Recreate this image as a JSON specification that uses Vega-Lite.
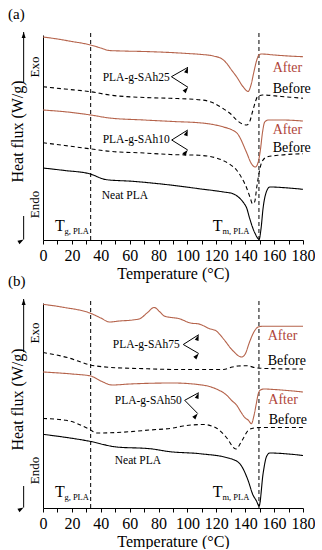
{
"$schema":"https://vega.github.io/schema/vega-lite/v6.json",
"padding":{"left":8,"top":6,"right":0,"bottom":0},
"background":"white",
"spacing":63,
"bounds":"flush",
"config":{"font":"Liberation Serif","view":{"stroke":null},
 "axis":{"domainColor":"black","tickColor":"black","labelColor":"black","titleColor":"black","grid":false,"labelFontSize":16,"titleFontSize":16,"titleFontWeight":"normal","tickSize":4,"labelPadding":3,"titlePadding":2},
 "title":{"fontWeight":"normal","fontSize":15,"color":"black"}},
"datasets":{
"vlines":[{"T":33,"v":0,"v2":207},{"T":149.5,"v":0,"v2":207}],
"curves":[
{"panel":"a","series":"a25A","state":"After","T":0,"v":203},{"panel":"a","series":"a25A","state":"After","T":10,"v":201},{"panel":"a","series":"a25A","state":"After","T":20,"v":198.5},{"panel":"a","series":"a25A","state":"After","T":30,"v":196},{"panel":"a","series":"a25A","state":"After","T":33,"v":195},{"panel":"a","series":"a25A","state":"After","T":40,"v":192},{"panel":"a","series":"a25A","state":"After","T":46,"v":189.5},{"panel":"a","series":"a25A","state":"After","T":55,"v":189},{"panel":"a","series":"a25A","state":"After","T":70,"v":188.5},{"panel":"a","series":"a25A","state":"After","T":88,"v":187.5},{"panel":"a","series":"a25A","state":"After","T":100,"v":186.5},{"panel":"a","series":"a25A","state":"After","T":110,"v":185.5},{"panel":"a","series":"a25A","state":"After","T":118,"v":184},{"panel":"a","series":"a25A","state":"After","T":124,"v":181},{"panel":"a","series":"a25A","state":"After","T":127,"v":177},{"panel":"a","series":"a25A","state":"After","T":130.5,"v":170},{"panel":"a","series":"a25A","state":"After","T":134,"v":163.3},{"panel":"a","series":"a25A","state":"After","T":138.5,"v":153.3},{"panel":"a","series":"a25A","state":"After","T":142,"v":148.5},{"panel":"a","series":"a25A","state":"After","T":144,"v":155},{"panel":"a","series":"a25A","state":"After","T":146,"v":168},{"panel":"a","series":"a25A","state":"After","T":148,"v":180},{"panel":"a","series":"a25A","state":"After","T":149.5,"v":185},{"panel":"a","series":"a25A","state":"After","T":151,"v":186},{"panel":"a","series":"a25A","state":"After","T":160,"v":185},{"panel":"a","series":"a25A","state":"After","T":170,"v":184},{"panel":"a","series":"a25A","state":"After","T":180,"v":183.3},
{"panel":"a","series":"a25B","state":"Before","T":0,"v":153.3},{"panel":"a","series":"a25B","state":"Before","T":15,"v":151},{"panel":"a","series":"a25B","state":"Before","T":33,"v":148.3},{"panel":"a","series":"a25B","state":"Before","T":46,"v":145},{"panel":"a","series":"a25B","state":"Before","T":70,"v":142.5},{"panel":"a","series":"a25B","state":"Before","T":88,"v":141.7},{"panel":"a","series":"a25B","state":"Before","T":110,"v":140},{"panel":"a","series":"a25B","state":"Before","T":118,"v":137},{"panel":"a","series":"a25B","state":"Before","T":124,"v":132},{"panel":"a","series":"a25B","state":"Before","T":130,"v":126},{"panel":"a","series":"a25B","state":"Before","T":134,"v":120},{"panel":"a","series":"a25B","state":"Before","T":138,"v":116},{"panel":"a","series":"a25B","state":"Before","T":141,"v":115},{"panel":"a","series":"a25B","state":"Before","T":143,"v":118},{"panel":"a","series":"a25B","state":"Before","T":145,"v":128},{"panel":"a","series":"a25B","state":"Before","T":147,"v":138},{"panel":"a","series":"a25B","state":"Before","T":148.5,"v":143.3},{"panel":"a","series":"a25B","state":"Before","T":152,"v":145},{"panel":"a","series":"a25B","state":"Before","T":165,"v":143.5},{"panel":"a","series":"a25B","state":"Before","T":180,"v":141.7},
{"panel":"a","series":"a10A","state":"After","T":0,"v":130},{"panel":"a","series":"a10A","state":"After","T":20,"v":127.5},{"panel":"a","series":"a10A","state":"After","T":33,"v":125},{"panel":"a","series":"a10A","state":"After","T":46,"v":122},{"panel":"a","series":"a10A","state":"After","T":70,"v":120},{"panel":"a","series":"a10A","state":"After","T":90,"v":118.5},{"panel":"a","series":"a10A","state":"After","T":110,"v":117},{"panel":"a","series":"a10A","state":"After","T":125,"v":113},{"panel":"a","series":"a10A","state":"After","T":131,"v":110},{"panel":"a","series":"a10A","state":"After","T":134.8,"v":106},{"panel":"a","series":"a10A","state":"After","T":140.8,"v":88},{"panel":"a","series":"a10A","state":"After","T":144.3,"v":76.3},{"panel":"a","series":"a10A","state":"After","T":147,"v":73},{"panel":"a","series":"a10A","state":"After","T":149,"v":78},{"panel":"a","series":"a10A","state":"After","T":150.5,"v":90},{"panel":"a","series":"a10A","state":"After","T":152,"v":108},{"panel":"a","series":"a10A","state":"After","T":153.5,"v":118},{"panel":"a","series":"a10A","state":"After","T":156,"v":120},{"panel":"a","series":"a10A","state":"After","T":165,"v":120},{"panel":"a","series":"a10A","state":"After","T":180,"v":119},
{"panel":"a","series":"a10B","state":"Before","T":0,"v":97.3},{"panel":"a","series":"a10B","state":"Before","T":15,"v":94.5},{"panel":"a","series":"a10B","state":"Before","T":32,"v":91.3},{"panel":"a","series":"a10B","state":"Before","T":46,"v":88.7},{"panel":"a","series":"a10B","state":"Before","T":70,"v":87},{"panel":"a","series":"a10B","state":"Before","T":88,"v":85.5},{"panel":"a","series":"a10B","state":"Before","T":108,"v":84.7},{"panel":"a","series":"a10B","state":"Before","T":120,"v":82},{"panel":"a","series":"a10B","state":"Before","T":129,"v":76},{"panel":"a","series":"a10B","state":"Before","T":134,"v":70},{"panel":"a","series":"a10B","state":"Before","T":138,"v":61},{"panel":"a","series":"a10B","state":"Before","T":141,"v":52},{"panel":"a","series":"a10B","state":"Before","T":143.5,"v":42},{"panel":"a","series":"a10B","state":"Before","T":145,"v":36.3},{"panel":"a","series":"a10B","state":"Before","T":146.5,"v":38},{"panel":"a","series":"a10B","state":"Before","T":148,"v":53},{"panel":"a","series":"a10B","state":"Before","T":150,"v":70},{"panel":"a","series":"a10B","state":"Before","T":151.5,"v":78},{"panel":"a","series":"a10B","state":"Before","T":155,"v":83},{"panel":"a","series":"a10B","state":"Before","T":165,"v":85},{"panel":"a","series":"a10B","state":"Before","T":180,"v":86.3},
{"panel":"a","series":"aN","state":"Neat","T":0,"v":72},{"panel":"a","series":"aN","state":"Neat","T":15,"v":69.5},{"panel":"a","series":"aN","state":"Neat","T":32,"v":66.3},{"panel":"a","series":"aN","state":"Neat","T":44,"v":60.3},{"panel":"a","series":"aN","state":"Neat","T":62,"v":58.7},{"panel":"a","series":"aN","state":"Neat","T":85,"v":55.5},{"panel":"a","series":"aN","state":"Neat","T":108,"v":51.3},{"panel":"a","series":"aN","state":"Neat","T":125,"v":48},{"panel":"a","series":"aN","state":"Neat","T":131.5,"v":46.3},{"panel":"a","series":"aN","state":"Neat","T":136,"v":42},{"panel":"a","series":"aN","state":"Neat","T":139,"v":37},{"panel":"a","series":"aN","state":"Neat","T":141,"v":32},{"panel":"a","series":"aN","state":"Neat","T":143,"v":22},{"panel":"a","series":"aN","state":"Neat","T":145,"v":13},{"panel":"a","series":"aN","state":"Neat","T":147,"v":6},{"panel":"a","series":"aN","state":"Neat","T":149.6,"v":0.7},{"panel":"a","series":"aN","state":"Neat","T":151,"v":12},{"panel":"a","series":"aN","state":"Neat","T":152.3,"v":31},{"panel":"a","series":"aN","state":"Neat","T":154.6,"v":48},{"panel":"a","series":"aN","state":"Neat","T":157,"v":53},{"panel":"a","series":"aN","state":"Neat","T":170,"v":52},{"panel":"a","series":"aN","state":"Neat","T":180,"v":50.7},
{"panel":"b","series":"b75A","state":"After","T":0,"v":203.7},{"panel":"b","series":"b75A","state":"After","T":15,"v":200.5},{"panel":"b","series":"b75A","state":"After","T":32.4,"v":195},{"panel":"b","series":"b75A","state":"After","T":40,"v":190},{"panel":"b","series":"b75A","state":"After","T":46,"v":186},{"panel":"b","series":"b75A","state":"After","T":53,"v":187},{"panel":"b","series":"b75A","state":"After","T":62,"v":188},{"panel":"b","series":"b75A","state":"After","T":67,"v":189.3},{"panel":"b","series":"b75A","state":"After","T":72,"v":195},{"panel":"b","series":"b75A","state":"After","T":77,"v":200.5},{"panel":"b","series":"b75A","state":"After","T":81,"v":196},{"panel":"b","series":"b75A","state":"After","T":84,"v":192},{"panel":"b","series":"b75A","state":"After","T":95,"v":189},{"panel":"b","series":"b75A","state":"After","T":102,"v":185},{"panel":"b","series":"b75A","state":"After","T":108,"v":184},{"panel":"b","series":"b75A","state":"After","T":115,"v":179.5},{"panel":"b","series":"b75A","state":"After","T":120,"v":177},{"panel":"b","series":"b75A","state":"After","T":125,"v":169},{"panel":"b","series":"b75A","state":"After","T":131,"v":158},{"panel":"b","series":"b75A","state":"After","T":137.5,"v":151},{"panel":"b","series":"b75A","state":"After","T":140,"v":154},{"panel":"b","series":"b75A","state":"After","T":143,"v":166},{"panel":"b","series":"b75A","state":"After","T":146,"v":176},{"panel":"b","series":"b75A","state":"After","T":149,"v":181},{"panel":"b","series":"b75A","state":"After","T":152,"v":181.7},{"panel":"b","series":"b75A","state":"After","T":180,"v":181.7},
{"panel":"b","series":"b75B","state":"Before","T":0,"v":155.5},{"panel":"b","series":"b75B","state":"Before","T":18,"v":150},{"panel":"b","series":"b75B","state":"Before","T":32,"v":143.3},{"panel":"b","series":"b75B","state":"Before","T":46,"v":140.7},{"panel":"b","series":"b75B","state":"Before","T":70,"v":139.3},{"panel":"b","series":"b75B","state":"Before","T":95,"v":138.5},{"panel":"b","series":"b75B","state":"Before","T":125,"v":138.5},{"panel":"b","series":"b75B","state":"Before","T":131,"v":141},{"panel":"b","series":"b75B","state":"Before","T":135,"v":142},{"panel":"b","series":"b75B","state":"Before","T":141,"v":142.3},{"panel":"b","series":"b75B","state":"Before","T":148,"v":140},{"panel":"b","series":"b75B","state":"Before","T":160,"v":139.3},{"panel":"b","series":"b75B","state":"Before","T":180,"v":139},
{"panel":"b","series":"b50A","state":"After","T":0,"v":136},{"panel":"b","series":"b50A","state":"After","T":20,"v":134},{"panel":"b","series":"b50A","state":"After","T":33,"v":132},{"panel":"b","series":"b50A","state":"After","T":40,"v":127},{"panel":"b","series":"b50A","state":"After","T":48,"v":123},{"panel":"b","series":"b50A","state":"After","T":60,"v":124},{"panel":"b","series":"b50A","state":"After","T":90,"v":125},{"panel":"b","series":"b50A","state":"After","T":110,"v":123},{"panel":"b","series":"b50A","state":"After","T":120,"v":119},{"panel":"b","series":"b50A","state":"After","T":127,"v":113},{"panel":"b","series":"b50A","state":"After","T":131,"v":107},{"panel":"b","series":"b50A","state":"After","T":134,"v":103},{"panel":"b","series":"b50A","state":"After","T":137,"v":96},{"panel":"b","series":"b50A","state":"After","T":140,"v":90},{"panel":"b","series":"b50A","state":"After","T":142,"v":88},{"panel":"b","series":"b50A","state":"After","T":144.3,"v":84.3},{"panel":"b","series":"b50A","state":"After","T":146,"v":92},{"panel":"b","series":"b50A","state":"After","T":147.5,"v":103},{"panel":"b","series":"b50A","state":"After","T":149,"v":114},{"panel":"b","series":"b50A","state":"After","T":150.5,"v":118},{"panel":"b","series":"b50A","state":"After","T":153,"v":119},{"panel":"b","series":"b50A","state":"After","T":160,"v":118.5},{"panel":"b","series":"b50A","state":"After","T":180,"v":116},
{"panel":"b","series":"b50B","state":"Before","T":0,"v":89.5},{"panel":"b","series":"b50B","state":"Before","T":16,"v":87.7},{"panel":"b","series":"b50B","state":"Before","T":32.4,"v":78.5},{"panel":"b","series":"b50B","state":"Before","T":37,"v":75},{"panel":"b","series":"b50B","state":"Before","T":51,"v":75.5},{"panel":"b","series":"b50B","state":"Before","T":74,"v":78},{"panel":"b","series":"b50B","state":"Before","T":90,"v":80},{"panel":"b","series":"b50B","state":"Before","T":97,"v":82},{"panel":"b","series":"b50B","state":"Before","T":111,"v":83.5},{"panel":"b","series":"b50B","state":"Before","T":120,"v":80},{"panel":"b","series":"b50B","state":"Before","T":127,"v":70.5},{"panel":"b","series":"b50B","state":"Before","T":133.5,"v":59},{"panel":"b","series":"b50B","state":"Before","T":138,"v":68},{"panel":"b","series":"b50B","state":"Before","T":142,"v":77.5},{"panel":"b","series":"b50B","state":"Before","T":146,"v":80},{"panel":"b","series":"b50B","state":"Before","T":150,"v":80.5},{"panel":"b","series":"b50B","state":"Before","T":180,"v":80.5},
{"panel":"b","series":"bN","state":"Neat","T":0,"v":73.7},{"panel":"b","series":"bN","state":"Neat","T":32.4,"v":66.7},{"panel":"b","series":"bN","state":"Neat","T":51,"v":61},{"panel":"b","series":"bN","state":"Neat","T":74,"v":59.3},{"panel":"b","series":"bN","state":"Neat","T":88,"v":56.3},{"panel":"b","series":"bN","state":"Neat","T":108.5,"v":54.3},{"panel":"b","series":"bN","state":"Neat","T":129,"v":49.7},{"panel":"b","series":"bN","state":"Neat","T":136,"v":44.7},{"panel":"b","series":"bN","state":"Neat","T":141.5,"v":29.5},{"panel":"b","series":"bN","state":"Neat","T":145.4,"v":13},{"panel":"b","series":"bN","state":"Neat","T":147.8,"v":7},{"panel":"b","series":"bN","state":"Neat","T":149.6,"v":2},{"panel":"b","series":"bN","state":"Neat","T":152.4,"v":34.7},{"panel":"b","series":"bN","state":"Neat","T":154.7,"v":51.3},{"panel":"b","series":"bN","state":"Neat","T":157,"v":55},{"panel":"b","series":"bN","state":"Neat","T":170,"v":54},{"panel":"b","series":"bN","state":"Neat","T":180,"v":52.5}
],
"labels":[
{"panel":"a","kind":"name","label":"PLA-g-SAh25","T":41.3,"v":159},
{"panel":"a","kind":"name","label":"PLA-g-SAh10","T":41.3,"v":97},
{"panel":"a","kind":"name","label":"Neat PLA","T":40.7,"v":41},
{"panel":"b","kind":"name","label":"PLA-g-SAh75","T":48.3,"v":160.3},
{"panel":"b","kind":"name","label":"PLA-g-SAh50","T":49.7,"v":103.7},
{"panel":"b","kind":"name","label":"Neat PLA","T":49.7,"v":44.3},
{"panel":"a","kind":"state","label":"After","T":159,"v":168},
{"panel":"a","kind":"state","label":"Before","T":159,"v":147},
{"panel":"a","kind":"state","label":"After","T":159,"v":106.5},
{"panel":"a","kind":"state","label":"Before","T":159,"v":88},
{"panel":"b","kind":"state","label":"After","T":155.6,"v":168},
{"panel":"b","kind":"state","label":"Before","T":155.6,"v":143},
{"panel":"b","kind":"state","label":"After","T":156,"v":104.3},
{"panel":"b","kind":"state","label":"Before","T":156.3,"v":84.3},
{"panel":"a","kind":"big","label":"T","T":8.3,"v":9},
{"panel":"a","kind":"big","label":"T","T":117.6,"v":9},
{"panel":"b","kind":"big","label":"T","T":8.3,"v":11},
{"panel":"b","kind":"big","label":"T","T":117.6,"v":11},
{"panel":"a","kind":"sub","label":"g, PLA","T":14.8,"v":6},
{"panel":"a","kind":"sub","label":"m, PLA","T":124.2,"v":6},
{"panel":"b","kind":"sub","label":"g, PLA","T":14.8,"v":8.5},
{"panel":"b","kind":"sub","label":"m, PLA","T":124.2,"v":8.5},
{"panel":"a","kind":"side","label":"Exo","T":-5.7,"v":173},
{"panel":"a","kind":"side","label":"Endo","T":-5.7,"v":35.5},
{"panel":"b","kind":"side","label":"Exo","T":-5.7,"v":175},
{"panel":"b","kind":"side","label":"Endo","T":-5.7,"v":37.5}
],
"segs":[
{"panel":"a","T":-13.4,"v":158,"T2":-13.4,"v2":208},
{"panel":"a","T":-13.4,"v":24,"T2":-13.4,"v2":0.5},
{"panel":"a","T":88.9,"v":163.3,"T2":100.4,"v2":172.7},
{"panel":"a","T":88.9,"v":163.3,"T2":100.4,"v2":152.7},
{"panel":"a","T":89.1,"v":100,"T2":100.2,"v2":110},
{"panel":"a","T":89.1,"v":100,"T2":100.2,"v2":90},
{"panel":"b","T":-13.4,"v":156,"T2":-13.4,"v2":209},
{"panel":"b","T":-13.4,"v":22,"T2":-13.4,"v2":0.5},
{"panel":"b","T":97.1,"v":163.5,"T2":107.8,"v2":173.3},
{"panel":"b","T":97.1,"v":163.5,"T2":107.8,"v2":154.5},
{"panel":"b","T":98.1,"v":107.7,"T2":107.8,"v2":115.3},
{"panel":"b","T":98.1,"v":107.7,"T2":107.1,"v2":94.5}
],
"heads":[
{"panel":"a","T":-13.4,"v":208,"dir":"up"},
{"panel":"a","T":-13.4,"v":0.5,"dir":"down"},
{"panel":"a","T":100.4,"v":172.7,"dir":"upright"},
{"panel":"a","T":100.4,"v":152.7,"dir":"downright"},
{"panel":"a","T":100.2,"v":110,"dir":"upright"},
{"panel":"a","T":100.2,"v":90,"dir":"downright"},
{"panel":"b","T":-13.4,"v":209,"dir":"up"},
{"panel":"b","T":-13.4,"v":0.5,"dir":"down"},
{"panel":"b","T":107.8,"v":173.3,"dir":"upright"},
{"panel":"b","T":107.8,"v":154.5,"dir":"downright"},
{"panel":"b","T":107.8,"v":115.3,"dir":"upright"},
{"panel":"b","T":107.1,"v":94.5,"dir":"downright"}
]
},
"vconcat":[
{
"width":260,"height":205,
"title":{"text":"(a)","anchor":"start","frame":"group","dx":-35,"offset":10},
"encoding":{
 "x":{"field":"T","type":"quantitative","scale":{"domain":[0,180],"nice":false,"zero":false},"axis":{"title":"Temperature (°C)","values":[0,10,20,30,40,50,60,70,80,90,100,110,120,130,140,150,160,170,180],"labelExpr":"datum.value % 20 === 0 ? datum.label : ''","labelOverlap":false,"labelFlush":false}},
 "y":{"field":"v","type":"quantitative","scale":{"domain":[0,205],"nice":false,"zero":false},"axis":{"title":"Heat flux (W/g)","labels":false,"ticks":false,"titleX":-18,"titleY":96}}
},
"layer":[
 {"data":{"name":"vlines"},"mark":{"type":"rule","strokeDash":[4,3],"color":"black","strokeWidth":1},"encoding":{"y2":{"field":"v2"}}},
 {"data":{"name":"curves"},"transform":[{"filter":"datum.panel==='a'"}],"mark":{"type":"line","interpolate":"monotone","strokeWidth":1.1},"encoding":{"detail":{"field":"series"},"color":{"field":"state","type":"nominal","scale":{"domain":["After","Before","Neat"],"range":["#b5634b","#000000","#000000"]},"legend":null},"strokeDash":{"field":"state","type":"nominal","scale":{"domain":["After","Before","Neat"],"range":[[1,0],[4,3],[1,0]]},"legend":null}}},
 {"data":{"name":"labels"},"transform":[{"filter":"datum.panel==='a' && datum.kind==='name'"}],"mark":{"type":"text","align":"left","baseline":"alphabetic","fontSize":11.5,"color":"black"},"encoding":{"text":{"field":"label"}}},
 {"data":{"name":"labels"},"transform":[{"filter":"datum.panel==='a' && datum.kind==='state'"}],"mark":{"type":"text","align":"left","baseline":"alphabetic","fontSize":14},"encoding":{"text":{"field":"label"},"color":{"condition":{"test":"datum.label==='After'","value":"#b0453a"},"value":"black"}}},
 {"data":{"name":"labels"},"transform":[{"filter":"datum.panel==='a' && datum.kind==='big'"}],"mark":{"type":"text","align":"left","baseline":"alphabetic","fontSize":16,"color":"black"},"encoding":{"text":{"field":"label"}}},
 {"data":{"name":"labels"},"transform":[{"filter":"datum.panel==='a' && datum.kind==='sub'"}],"mark":{"type":"text","align":"left","baseline":"alphabetic","fontSize":8.5,"color":"black"},"encoding":{"text":{"field":"label"}}},
 {"data":{"name":"labels"},"transform":[{"filter":"datum.panel==='a' && datum.kind==='side'"}],"mark":{"type":"text","align":"center","baseline":"middle","angle":270,"fontSize":13,"color":"black"},"encoding":{"text":{"field":"label"}}},
 {"data":{"name":"segs"},"transform":[{"filter":"datum.panel==='a'"}],"mark":{"type":"rule","color":"black","strokeWidth":1},"encoding":{"x2":{"field":"T2"},"y2":{"field":"v2"}}},
 {"data":{"name":"heads"},"transform":[{"filter":"datum.panel==='a'"}],"mark":{"type":"point","shape":"M0,0L1,3L-1,3Z","filled":true,"size":16,"color":"black","opacity":1},"encoding":{"angle":{"field":"dir","type":"nominal","scale":{"domain":["up","upright","downright","down"],"range":[0,60,120,180]},"legend":null}}}
]
},
{
"width":260,"height":205,
"title":{"text":"(b)","anchor":"start","frame":"group","dx":-35,"offset":10},
"encoding":{
 "x":{"field":"T","type":"quantitative","scale":{"domain":[0,180],"nice":false,"zero":false},"axis":{"title":"Temperature (°C)","values":[0,10,20,30,40,50,60,70,80,90,100,110,120,130,140,150,160,170,180],"labelExpr":"datum.value % 20 === 0 ? datum.label : ''","labelOverlap":false,"labelFlush":false}},
 "y":{"field":"v","type":"quantitative","scale":{"domain":[0,205],"nice":false,"zero":false},"axis":{"title":"Heat flux (W/g)","labels":false,"ticks":false,"titleX":-18,"titleY":96}}
},
"layer":[
 {"data":{"name":"vlines"},"mark":{"type":"rule","strokeDash":[4,3],"color":"black","strokeWidth":1},"encoding":{"y2":{"field":"v2"}}},
 {"data":{"name":"curves"},"transform":[{"filter":"datum.panel==='b'"}],"mark":{"type":"line","interpolate":"monotone","strokeWidth":1.1},"encoding":{"detail":{"field":"series"},"color":{"field":"state","type":"nominal","scale":{"domain":["After","Before","Neat"],"range":["#b5634b","#000000","#000000"]},"legend":null},"strokeDash":{"field":"state","type":"nominal","scale":{"domain":["After","Before","Neat"],"range":[[1,0],[4,3],[1,0]]},"legend":null}}},
 {"data":{"name":"labels"},"transform":[{"filter":"datum.panel==='b' && datum.kind==='name'"}],"mark":{"type":"text","align":"left","baseline":"alphabetic","fontSize":11.5,"color":"black"},"encoding":{"text":{"field":"label"}}},
 {"data":{"name":"labels"},"transform":[{"filter":"datum.panel==='b' && datum.kind==='state'"}],"mark":{"type":"text","align":"left","baseline":"alphabetic","fontSize":14},"encoding":{"text":{"field":"label"},"color":{"condition":{"test":"datum.label==='After'","value":"#b0453a"},"value":"black"}}},
 {"data":{"name":"labels"},"transform":[{"filter":"datum.panel==='b' && datum.kind==='big'"}],"mark":{"type":"text","align":"left","baseline":"alphabetic","fontSize":16,"color":"black"},"encoding":{"text":{"field":"label"}}},
 {"data":{"name":"labels"},"transform":[{"filter":"datum.panel==='b' && datum.kind==='sub'"}],"mark":{"type":"text","align":"left","baseline":"alphabetic","fontSize":8.5,"color":"black"},"encoding":{"text":{"field":"label"}}},
 {"data":{"name":"labels"},"transform":[{"filter":"datum.panel==='b' && datum.kind==='side'"}],"mark":{"type":"text","align":"center","baseline":"middle","angle":270,"fontSize":13,"color":"black"},"encoding":{"text":{"field":"label"}}},
 {"data":{"name":"segs"},"transform":[{"filter":"datum.panel==='b'"}],"mark":{"type":"rule","color":"black","strokeWidth":1},"encoding":{"x2":{"field":"T2"},"y2":{"field":"v2"}}},
 {"data":{"name":"heads"},"transform":[{"filter":"datum.panel==='b'"}],"mark":{"type":"point","shape":"M0,0L1,3L-1,3Z","filled":true,"size":16,"color":"black","opacity":1},"encoding":{"angle":{"field":"dir","type":"nominal","scale":{"domain":["up","upright","downright","down"],"range":[0,60,120,180]},"legend":null}}}
]
}
]
}
